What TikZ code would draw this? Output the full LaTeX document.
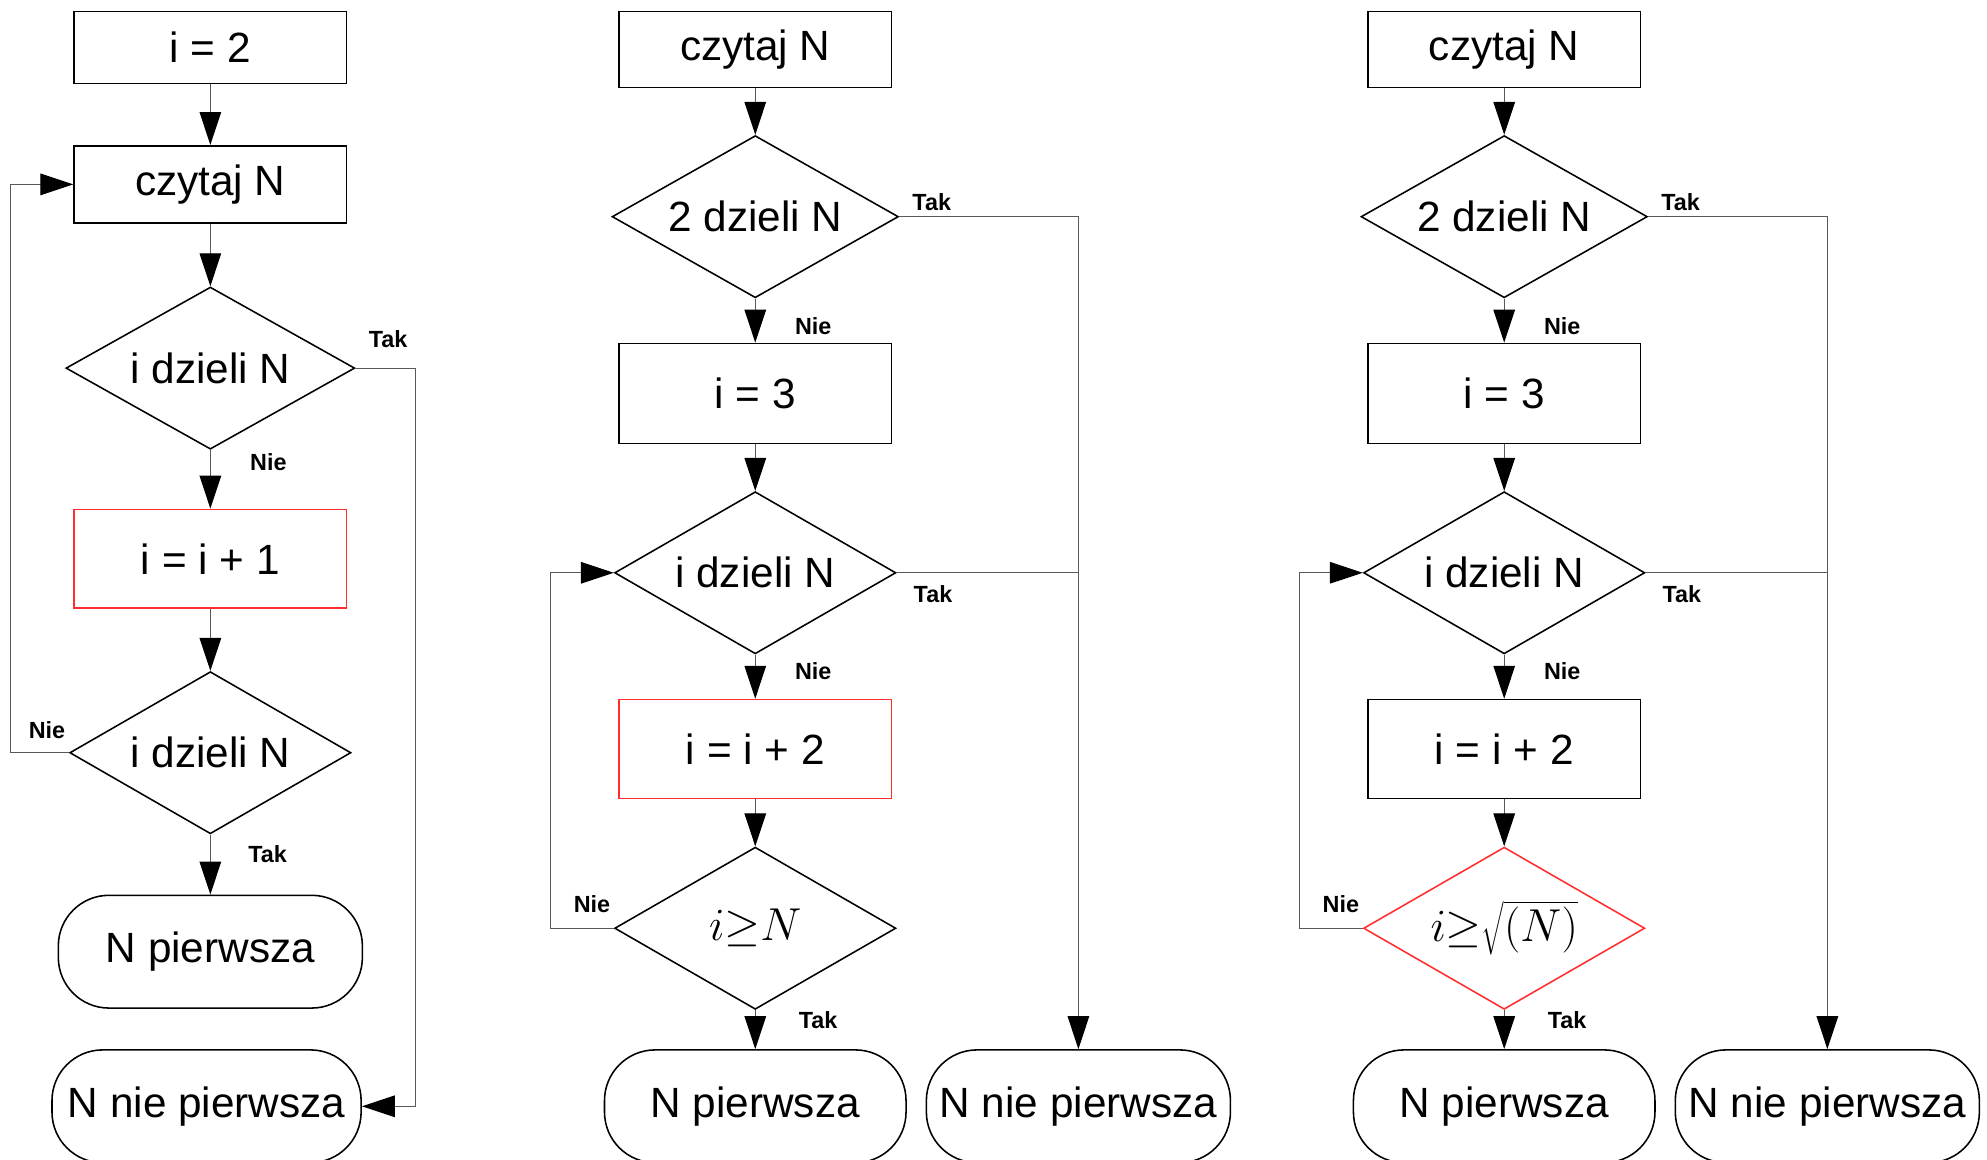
\documentclass[tikz,border=0pt]{standalone}
\usepackage{fontspec}
\setmainfont{Liberation Sans}
\usetikzlibrary{arrows.meta,shapes.geometric}
\definecolor{hl}{RGB}{255,45,45}

\begin{document}
\begin{tikzpicture}[x=0.02cm, y=-0.02cm,
  font=\fontsize{19}{22}\selectfont,
  blk/.style={draw, line width=0.7pt, minimum width=4.3cm, minimum height=1.2cm,
              inner sep=0pt},
  dec/.style={draw, diamond, aspect=1.75, line width=0.7pt, inner sep=0pt,
              minimum width=4.44cm, minimum height=2.56cm},
  term/.style={draw, rectangle, rounded corners=0.8cm, line width=0.7pt,
               inner sep=0pt, minimum width=4.8cm, minimum height=1.78cm},
  a/.style={draw=black!65, line width=0.5pt,
            -{Triangle[length=0.52cm, width=0.34cm, color=black]}},
  ln/.style={draw=black!65, line width=0.5pt},
  lbl/.style={font=\fontsize{10.5}{12}\selectfont\bfseries, inner sep=0pt}]

\useasboundingbox (0,0) rectangle (1568,915);

% left: try every i
\node[blk, minimum height=1.14cm] (a-init) at (166,37.5) {i = 2};
\node[blk, minimum height=1.22cm] (a-read) at (166,145.5) {czytaj N};
\node[dec, minimum width=4.56cm] (a-div1) at (166,290.5) {i dzieli N};
\node[blk, draw=hl, minimum height=1.56cm] (a-inc) at (166,441) {i = i + 1};
\node[dec] (a-div2) at (166,594) {i dzieli N};
\node[term] (a-yes) at (166,751) {N pierwsza};
\node[term, minimum width=4.88cm] (a-no) at (163,873) {N nie pierwsza};

\draw[a] (a-init) -- (a-read);
\draw[a] (a-read) -- (a-div1);
\draw[a] (a-div1) -- node[lbl, pos=0, anchor=north west, xshift=0.62cm, yshift=-0.05cm] {Nie} (a-inc);
\draw[a] (a-inc) -- (a-div2);
\draw[a] (a-div2) -- node[lbl, pos=0, anchor=north west, xshift=0.59cm, yshift=-0.17cm] {Tak} (a-yes);
\draw[a] (a-div2.west) -- node[lbl, pos=0, anchor=south east, xshift=-0.05cm, yshift=0.22cm] {Nie}
  ++(-46,0) |- (a-read.west);
\draw[a] (a-div1.east) -- node[lbl, pos=0, anchor=south west, xshift=0.2cm, yshift=0.31cm] {Tak}
  ++(47,0) |- (a-no.east);

% middle and right: 2 first, then odd i only
\foreach \c/\x/\incc/\stopc/\stoptxt in {b/596/hl/black/{$i{\geq}N$},
    c/1187/black/hl/{$i{\geq}\sqrt{\bigl(N\bigr)}$}} {
  \node[blk] (\c-read) at (\x,39) {czytaj N};
  \node[dec, minimum width=4.52cm] (\c-two) at (\x,171) {2 dzieli N};
  \node[blk, minimum height=1.58cm] (\c-init) at (\x,310.5) {i = 3};
  \node[dec] (\c-div) at (\x,452) {i dzieli N};
  \node[blk, draw=\incc, minimum height=1.56cm] (\c-inc) at (\x,591) {i = i + 2};
  \node[dec, draw=\stopc, font=\fontsize{21}{24}\selectfont] (\c-stop) at (\x,732.5) {\stoptxt};
  \node[term, minimum width=4.76cm] (\c-yes) at (\x,873) {N pierwsza};
  \node[term] (\c-no) at (\x+255,873) {N nie pierwsza};

  \draw[a] (\c-read) -- (\c-two);
  \draw[a] (\c-two) -- node[lbl, pos=0, anchor=north west, xshift=0.62cm, yshift=-0.29cm] {Nie} (\c-init);
  \draw[a] (\c-init) -- (\c-div);
  \draw[a] (\c-div) -- node[lbl, pos=0, anchor=north west, xshift=0.62cm, yshift=-0.11cm] {Nie} (\c-inc);
  \draw[a] (\c-inc) -- (\c-stop);
  \draw[a] (\c-stop) -- node[lbl, pos=0, anchor=north west, xshift=0.68cm, yshift=-0.01cm] {Tak} (\c-yes);
  \draw[a] (\c-two.east) -| node[lbl, pos=0, anchor=south west, xshift=0.2cm, yshift=0.08cm] {Tak} (\c-no);
  \draw[ln] (\c-div.east) -- node[lbl, pos=0, anchor=north west, xshift=0.26cm, yshift=-0.2cm] {Tak}
    (\c-div.east -| \c-no.north);
  \draw[a] (\c-stop.west) -- node[lbl, pos=0, anchor=south east, xshift=-0.05cm, yshift=0.23cm] {Nie}
    ++(-50,0) |- (\c-div.west);
}
\end{tikzpicture}
\end{document}
